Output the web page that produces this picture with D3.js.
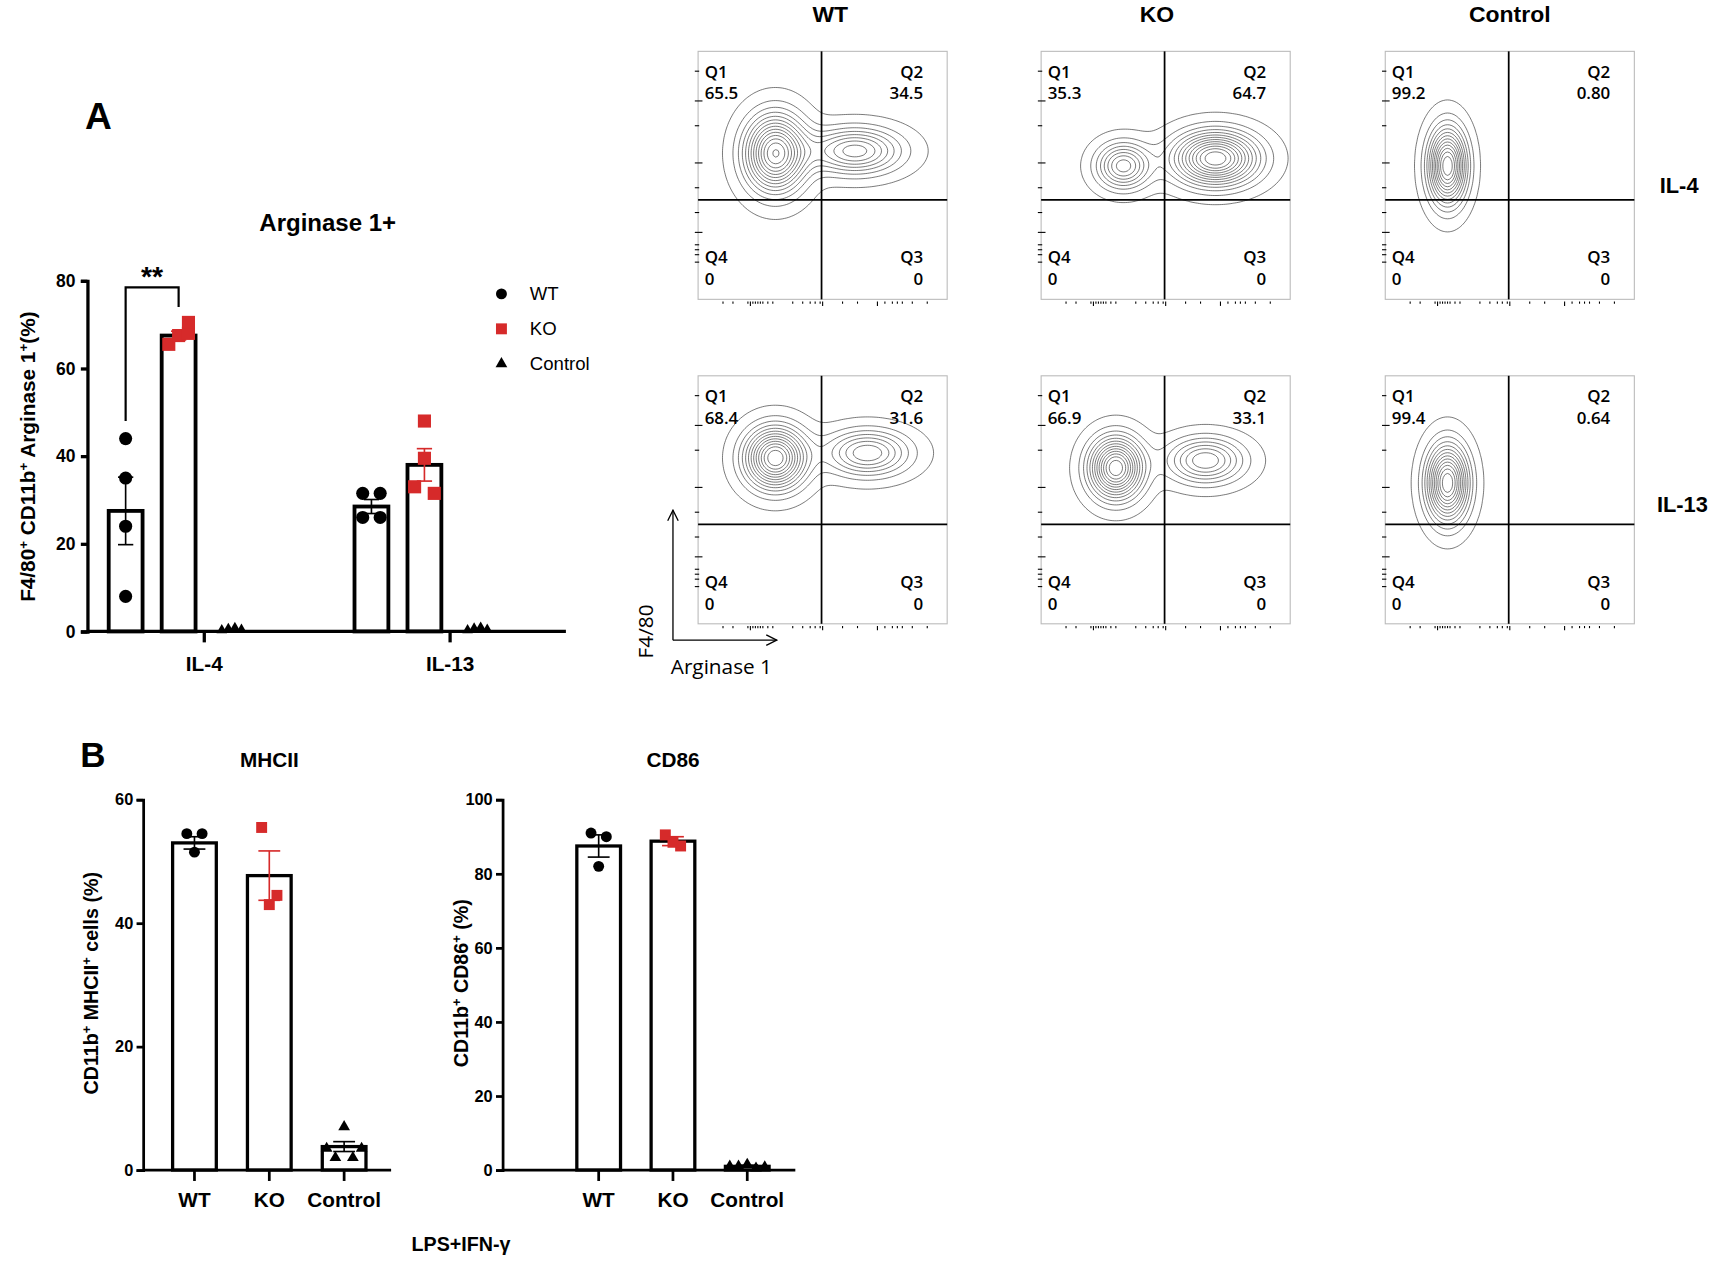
<!DOCTYPE html>
<html><head><meta charset="utf-8">
<script src="https://cdn.jsdelivr.net/npm/d3@7"></script>
<style>body{margin:0;background:#fff}text{font-family:Arial,"Liberation Sans",sans-serif}</style>
</head><body><svg id="c"></svg>
<script>
// ---------- DATA ----------
const argCats=["IL-4","IL-13"];
const argGroups=["WT","KO","Control"];
const argMeans=[[27.5,67.5,0.5],[28.5,38,0.5]];
const argSem=[[7.7,1.0,0.2],[1.6,3.7,0.2]];
const argPoints=[[[44,35,24,8],[65.5,67.5,68,70.5],[0.3,0.6,0.8,0.4]],[[31.5,31.5,26,26],[48,39.5,33,31.5],[0.3,0.7,0.9,0.4]]];
const argTicks=[0,20,40,60,80];
const mhcGroups=["WT","KO","Control"];
const mhcMeans=[53,47.7,3.8];
const mhcSem=[1,4,0.8];
const mhcPoints=[[54.5,54.5,51.5],[55.5,44.5,43],[7,3.5,3.5,2,2]];
const mhcTicks=[0,20,40,60];
const cdMeans=[87.5,88.8,1];
const cdSem=[3,1.2,0.3];
const cdPoints=[[91,90,82],[90.5,87.5,88.5],[1.5,1,0.8,1,0.5]];
const cdTicks=[0,20,40,60,80,100];
const flowCols=["WT","KO","Control"];
const flowRows=["IL-4","IL-13"];
const flowQ=[[["65.5","34.5","0","0"],["35.3","64.7","0","0"],["99.2","0.80","0","0"]],
             [["68.4","31.6","0","0"],["66.9","33.1","0","0"],["99.4","0.64","0","0"]]];
// blobs in panel-relative units (0..1 of width/height): [cx, cy, sx, sy, weight]
const flowBlobs=[[[[0.31,0.41,0.08,0.1,1],[0.63,0.40,0.12,0.06,0.6]],[[0.33,0.46,0.07,0.06,0.6],[0.7,0.43,0.11,0.07,1]],[[0.25,0.46,0.05,0.1,1]]],
                 [[[0.31,0.33,0.08,0.08,1],[0.68,0.31,0.11,0.06,0.55]],[[0.3,0.37,0.07,0.08,1],[0.66,0.34,0.1,0.06,0.55]],[[0.25,0.43,0.055,0.1,1]]]];

// ---------- SETUP ----------
const W=1568,H=1162.5;
const svg=d3.select("#c").attr("width",1713).attr("height",1270).attr("viewBox",`0 0 ${W} ${H}`);
const red="#d62a2a";
function txt(x,y,s,o={}){const t=svg.append("text").attr("x",x).attr("y",y).attr("font-size",o.size||16).attr("font-weight",o.weight||"bold").attr("text-anchor",o.anchor||"middle").attr("fill","#000");if(o.family)t.style("font-family",o.family);if(o.rot!=null)t.attr("transform",`rotate(${o.rot},${x},${y})`);return t.text(s);}
function sup(t,parts){t.text("");parts.forEach(p=>{const ts=t.append("tspan").text(p[0]);if(p[1]){ts.attr("baseline-shift","super").attr("font-size","65%");}});}
function marker(g,type,x,y,col,sz){
  if(type==="WT") g.append("circle").attr("cx",x).attr("cy",y).attr("r",sz/2).attr("fill",col);
  else if(type==="KO") g.append("rect").attr("x",x-sz/2).attr("y",y-sz/2).attr("width",sz).attr("height",sz).attr("fill",col);
  else g.append("path").attr("d",d3.symbol(d3.symbolTriangle,sz*sz*0.5)()).attr("transform",`translate(${x},${y})`).attr("fill",col);
}
const colOf={WT:"#000",KO:red,Control:"#000"};

// ---------- PANEL A BAR ----------
txt(90,118,"A",{size:34});
txt(300,211,"Arginase 1+",{size:22});
{
  const y=d3.scaleLinear().domain([0,80]).range([578,257]);
  const g=svg.append("g");
  const ax=g.append("g").attr("transform","translate(80,0)").call(d3.axisLeft(y).tickValues(argTicks).tickSize(6).tickFormat(d3.format("d")));
  ax.selectAll("path,line").attr("stroke","#000").attr("stroke-width",3);
  ax.selectAll("text").attr("font-size",16).attr("font-weight","bold").attr("dx",-2);
  g.append("line").attr("x1",80).attr("x2",518).attr("y1",578).attr("y2",578).attr("stroke","#000").attr("stroke-width",3);
  const xCenter={"IL-4":187,"IL-13":412};
  const offsets={WT:[[0,0,0,0],[-8,8,-8,8]],KO:[[-9,0,9,9],[0,0,-9,9]]};
  argCats.forEach((c,ci)=>{
    g.append("line").attr("x1",xCenter[c]).attr("x2",xCenter[c]).attr("y1",578).attr("y2",588).attr("stroke","#000").attr("stroke-width",3);
    txt(xCenter[c],614,c,{size:19});
    const gx=d3.scalePoint().domain(argGroups).range([xCenter[c]-72,xCenter[c]+25]);
    const bw=31;
    argGroups.forEach((gr,gi)=>{
      const cx=gx(gr),m=argMeans[ci][gi];
      if(gr!=="Control") g.append("rect").attr("x",cx-bw/2).attr("y",y(m)).attr("width",bw).attr("height",y(0)-y(m)).attr("fill","none").attr("stroke","#000").attr("stroke-width",3.5);
      const s=argSem[ci][gi],ec=gr==="KO"?red:"#000";
      if(gr!=="Control"){
        g.append("line").attr("x1",cx).attr("x2",cx).attr("y1",y(m+s)).attr("y2",y(m-s)).attr("stroke",ec).attr("stroke-width",1.5);
        [m+s,m-s].forEach(v=>g.append("line").attr("x1",cx-7).attr("x2",cx+7).attr("y1",y(v)).attr("y2",y(v)).attr("stroke",ec).attr("stroke-width",1.5));
      }
      const pts=argPoints[ci][gi];
      pts.forEach((v,i)=>marker(g,gr,cx+(gr==="Control"?(i-1.5)*6:offsets[gr][ci][i]),y(v),colOf[gr],gr==="Control"?9:12));
    });
    if(ci===0){
      const x1=gx("WT"),x2=gx("KO");
      g.append("path").attr("d",`M${x1},${y(48)}V${y(78.5)}H${x2}V${y(74)}`).attr("fill","none").attr("stroke","#000").attr("stroke-width",2);
      txt((x1+x2)/2,262,"**",{size:26});
    }
  });
  const yl=txt(32,418,"",{size:19,rot:-90});
  sup(yl,[["F4/80"],["+",1],[" CD11b"],["+",1],[" Arginase 1"],["+",1],["(%)"]]);
  const leg=[["WT",269],["KO",301],["Control",333]];
  leg.forEach(([n,ly])=>{marker(g,n,459,ly,colOf[n],10);txt(485,ly+6,n,{size:17,weight:"normal",anchor:"start"});});
}

// ---------- FLOW PLOTS ----------
const colX=[639,953,1268],rowY=[47,344],pw=228,ph=227,qy=136;
flowCols.forEach((c,i)=>txt(colX[i]+pw/2+(i===0?7:(i===1?-8:0)),20,c,{size:21}));
txt(1537,177,"IL-4",{size:20});
txt(1540,469,"IL-13",{size:20});
const nx=114,ny=114;
svg.append("defs").append("clipPath").attr("id","pc").append("rect").attr("width",pw).attr("height",ph);
flowRows.forEach((r,ri)=>flowCols.forEach((c,ci)=>{
  const x0=colX[ci],y0=rowY[ri];
  const g=svg.append("g").attr("transform",`translate(${x0},${y0})`);
  g.append("rect").attr("width",pw).attr("height",ph).attr("fill","#fff").attr("stroke","#bbb").attr("stroke-width",1);
  const blobs=flowBlobs[ri][ci];
  const vals=new Float64Array(nx*ny);
  for(let j=0;j<ny;j++)for(let i=0;i<nx;i++){
    const u=(i+0.5)/nx,v=(j+0.5)/ny;let s=0;
    blobs.forEach(([cx,cy,sx,sy,w])=>{s+=w*Math.exp(-0.5*(((u-cx)/sx)**2+((v-cy)/sy)**2));});
    vals[j*nx+i]=s;
  }
  const thr=d3.range(0.03,1.05,0.075);
  const cont=d3.contours().size([nx,ny]).thresholds(thr)(vals);
  const path=d3.geoPath(d3.geoIdentity().scale(pw/nx));
  g.append("g").attr("clip-path","url(#pc)").selectAll("path").data(cont).join("path").attr("d",d=>path(d))
    .attr("fill","none").attr("stroke","#333").attr("stroke-width",0.6);
  const qx=pw*0.5-1;
  g.append("line").attr("x1",qx).attr("x2",qx).attr("y1",0).attr("y2",ph).attr("stroke","#000").attr("stroke-width",1.6);
  g.append("line").attr("x1",0).attr("x2",pw).attr("y1",qy).attr("y2",qy).attr("stroke","#000").attr("stroke-width",1.6);
  const lt=d3.scaleLinear().domain([0,1]).range([ph,0]);
  [0.15,0.18,0.2,0.22,0.27,0.35,0.45,0.55,0.7,0.8,0.92].forEach(v=>g.append("line").attr("x1",-3).attr("x2",[0.27,0.55,0.8].includes(v)?4:1).attr("y1",lt(v)).attr("y2",lt(v)).attr("stroke","#000").attr("stroke-width",1));
  [0.1,0.14,0.2,0.21,0.22,0.23,0.24,0.25,0.26,0.28,0.3,0.38,0.42,0.45,0.47,0.49,0.5,0.58,0.64,0.72,0.75,0.78,0.8,0.82,0.86,0.92].forEach(v=>g.append("line").attr("x1",v*pw).attr("x2",v*pw).attr("y1",ph+2).attr("y2",ph+([0.21,0.5,0.72].includes(v)?6:4)).attr("stroke","#000").attr("stroke-width",1));
  const q=flowQ[ri][ci];
  const qt=(x,y,s,a)=>g.append("text").attr("x",x).attr("y",y).attr("font-size",15.5).attr("font-weight",600).attr("text-anchor",a).style("font-family","'Open Sans',sans-serif").text(s);
  qt(6,24,"Q1","start");qt(6,44,q[0],"start");
  qt(pw-22,24,"Q2","end");qt(pw-22,44,q[1],"end");
  qt(6,194,"Q4","start");qt(6,214,q[3],"start");
  qt(pw-22,194,"Q3","end");qt(pw-22,214,q[2],"end");
}));
svg.select("defs").append("marker").attr("id","ar").attr("viewBox","0 0 10 10").attr("refX",9).attr("refY",5).attr("markerWidth",10).attr("markerHeight",10).attr("orient","auto-start-reverse")
  .append("path").attr("d","M1,1L9,5L1,9").attr("fill","none").attr("stroke","#000").attr("stroke-width",1);
svg.append("line").attr("x1",616).attr("y1",586).attr("x2",616).attr("y2",467).attr("stroke","#000").attr("stroke-width",1.2).attr("marker-end","url(#ar)");
svg.append("line").attr("x1",616).attr("y1",586).attr("x2",711).attr("y2",586).attr("stroke","#000").attr("stroke-width",1.2).attr("marker-end","url(#ar)");
txt(598,578,"F4/80",{size:19,weight:"normal",rot:-90}).style("font-family","'Open Sans',sans-serif");
txt(614,617,"Arginase 1",{size:19,weight:"normal",anchor:"start"}).style("font-family","'Open Sans',sans-serif");

// ---------- PANEL B ----------
txt(85,702,"B",{size:32});
const ff="Arial,'Liberation Sans',sans-serif";
function bChart(ax0,axEnd,ticks,dom,means,sems,pts,centers,title,ylabParts,ylx){
  const y=d3.scaleLinear().domain(dom).range([1071,732]);
  const g=svg.append("g");
  const a=g.append("g").attr("transform",`translate(${ax0},0)`).call(d3.axisLeft(y).tickValues(ticks).tickSize(6).tickFormat(d3.format("d")));
  a.selectAll("path,line").attr("stroke","#000").attr("stroke-width",2.5);
  a.selectAll("text").attr("font-size",15).attr("font-weight","bold").style("font-family",ff);
  g.append("line").attr("x1",ax0).attr("x2",axEnd).attr("y1",1071).attr("y2",1071).attr("stroke","#000").attr("stroke-width",2.5);
  const xb=d3.scalePoint().domain(mhcGroups).range(centers);
  mhcGroups.forEach((gr,i)=>{
    const cx=xb(gr),m=means[i],s=sems[i],bw=40;
    g.append("line").attr("x1",cx).attr("x2",cx).attr("y1",1071).attr("y2",1081).attr("stroke","#000").attr("stroke-width",2.5);
    g.append("text").attr("x",cx).attr("y",1105).attr("text-anchor","middle").attr("font-size",19).attr("font-weight","bold").style("font-family",ff).text(gr);
    g.append("rect").attr("x",cx-bw/2).attr("y",y(m)).attr("width",bw).attr("height",y(0)-y(m)).attr("fill","none").attr("stroke","#000").attr("stroke-width",3);
    const ec=gr==="KO"?red:"#000";
    g.append("line").attr("x1",cx).attr("x2",cx).attr("y1",y(m+s)).attr("y2",y(m-s)).attr("stroke",ec).attr("stroke-width",1.5);
    [m+s,m-s].forEach(v=>g.append("line").attr("x1",cx-10).attr("x2",cx+10).attr("y1",y(v)).attr("y2",y(v)).attr("stroke",ec).attr("stroke-width",1.5));
    const p=pts[i];
    const offs=p.length===3?[-7,7,0]:[0,-16,16,-8,8];
    p.forEach((v,k)=>marker(g,gr,cx+offs[k],y(v),colOf[gr],10));
  });
  g.append("text").attr("x",centers[0]+(centers[1]-centers[0])*0.5).attr("y",702).attr("text-anchor","middle").attr("font-size",19).attr("font-weight","bold").style("font-family",ff).text(title);
  const yl=g.append("text").attr("x",ylx).attr("y",900).attr("text-anchor","middle").attr("font-size",18).attr("font-weight","bold").attr("transform",`rotate(-90,${ylx},900)`);
  ylabParts.forEach(p=>{const ts=yl.append("tspan").text(p[0]);if(p[1])ts.attr("baseline-shift","super").attr("font-size","65%");});
}
bChart(131,358,mhcTicks,[0,60],mhcMeans,mhcSem,mhcPoints,[178,315],"MHCII",[["CD11b"],["+",1],[" MHCII"],["+",1],[" cells (%)"]],90);
bChart(460,728,cdTicks,[0,100],cdMeans,cdSem,cdPoints,[548,684],"CD86",[["CD11b"],["+",1],[" CD86"],["+",1],[" (%)"]],428);
svg.append("text").attr("x",422).attr("y",1145).attr("text-anchor","middle").attr("font-size",18).attr("font-weight","bold").style("font-family",ff).text("LPS+IFN-γ");
</script></body></html>
